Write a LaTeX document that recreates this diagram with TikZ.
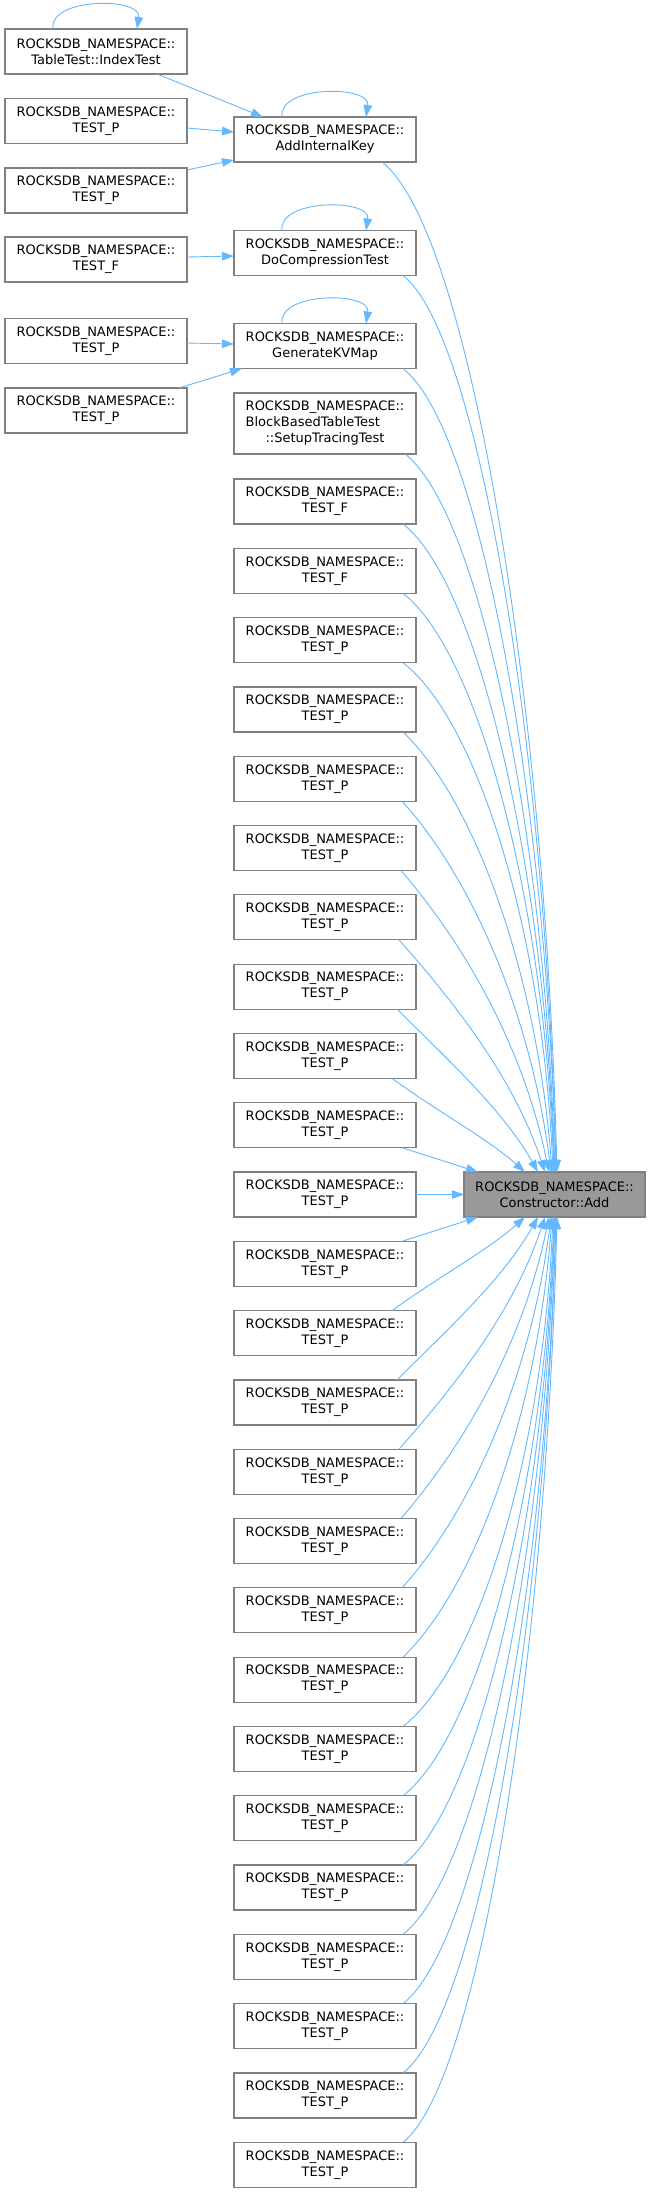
\documentclass[tikz,border=0pt]{standalone}
\usepackage{fontspec}
\setmainfont{DejaVu Sans}
\usepackage{tikz}
\usetikzlibrary{positioning, arrows.meta, calc}

\definecolor{callblue}{HTML}{63B8FF}
\definecolor{boxline}{HTML}{808080}
\definecolor{focusfill}{HTML}{999999}

\begin{document}
\begin{tikzpicture}[
    x=1pt, y=-1pt,
    fn/.style={rectangle, draw=boxline, line width=1.2pt, fill=white, minimum width=182pt, minimum height=45pt, inner sep=0pt, outer sep=0pt, align=center, font=\fontsize{13}{16}\selectfont},
    focus/.style={fn, fill=focusfill, minimum width=181pt},
    call/.style={-{Triangle[length=12pt, width=8.5pt]}, draw=callblue, line width=0.9pt}
]
    \path[fill=white, use as bounding box] (0,0) rectangle (651,2193);

    % callers of the callers
    \node[fn] (idx) at (96,51.5) {ROCKSDB\_NAMESPACE::\\TableTest::IndexTest};
    \node[fn] (lpa) at (96,121) {ROCKSDB\_NAMESPACE::\\TEST\_P};
    \node[fn] (lpb) at (96,190.5) {ROCKSDB\_NAMESPACE::\\TEST\_P};
    \node[fn] (lfa) at (96,259.5) {ROCKSDB\_NAMESPACE::\\TEST\_F};
    \node[fn] (lpc) at (96,341) {ROCKSDB\_NAMESPACE::\\TEST\_P};
    \node[fn] (lpd) at (96,410.5) {ROCKSDB\_NAMESPACE::\\TEST\_P};

    % direct callers
    \node[fn] (aik) at (325,139.5) {ROCKSDB\_NAMESPACE::\\AddInternalKey};
    \node[fn] (doc) at (325,253) {ROCKSDB\_NAMESPACE::\\DoCompressionTest};
    \node[fn] (gkv) at (325,346) {ROCKSDB\_NAMESPACE::\\GenerateKVMap};
    \node[fn, minimum height=61pt] (bbt) at (325,423.5) {ROCKSDB\_NAMESPACE::\\\makebox[0pt][l]{BlockBasedTableTest}\phantom{ROCKSDB\_NAMESPACE::}\\::SetupTracingTest};
    \node[fn, below=25pt of bbt] (t0) {ROCKSDB\_NAMESPACE::\\TEST\_F};
    \node[fn, below=24.3pt of t0] (t1) {ROCKSDB\_NAMESPACE::\\TEST\_F};
    \foreach \i [evaluate=\i as \j using int(\i-1)] in {2,...,24}
        \node[fn, below=24.3pt of t\j] (t\i) {ROCKSDB\_NAMESPACE::\\TEST\_P};

    \node[focus] (add) at (554.5,1194.5) {ROCKSDB\_NAMESPACE::\\Constructor::Add};

    % self calls
    \foreach \n in {idx, aik, doc, gkv}
        \draw[call] ([xshift=48pt]\n.north west) .. controls ([xshift=44pt, yshift=32pt]\n.north west) and ([xshift=137pt, yshift=32pt]\n.north west) .. ([xshift=132pt]\n.north west);

    % into the direct callers
    \draw[call] ([xshift=152pt]idx.south west) -- ([xshift=29pt]aik.north west);
    \draw[call] ([yshift=-7pt]lpa.east) -- ([yshift=7.5pt]aik.west);
    \draw[call] ([yshift=20.5pt]lpb.east) -- ([yshift=-20.5pt]aik.west);
    \draw[call] ([yshift=2.5pt]lfa.east) -- ([yshift=-3pt]doc.west);
    \draw[call] ([yshift=-2pt]lpc.east) -- ([yshift=2pt]gkv.west);
    \draw[call] ([xshift=-8pt]lpd.north east) -- ([xshift=8pt]gkv.south west);

    % callers above Constructor::Add
    \foreach \s/\a/\b in {aik/-34/93, doc/-13/92, gkv/-13/92, bbt/-11/91, t0/-13/90.5, t1/-13/90, t2/-13/89, t3/-13/88, t4/-14/87, t5/-15/85, t6/-17/81, t7/-19/74, t8/-24/61}
        \draw[call] let \p1=([xshift=\a pt]\s.south east), \p2=([xshift=\b pt]add.north west),
            \n1={min(1,((\y1)-(\y2))/500)}, \n2={(\x2)-(\x1)}, \n3={(\y1)-(\y2)} in
            (\p1) .. controls ({\x1+(0.33+0.17*\n1)*\n2}, {\y1-(0.33*(1-\n1)*\n3+0.39*\n1*\n2)})
            and ({\x2-(0.33-0.26*\n1)*\n2}, {\y2+(0.33*(1-\n1)+0.47*\n1)*\n3}) .. (\p2);
    \draw[call] ([xshift=-14pt]t9.south east) -- ([xshift=14pt]add.north west);
    \draw[call] (t10.east) -- (add.west);
    \draw[call] ([xshift=-14pt]t11.north east) -- ([xshift=14pt]add.south west);

    % callers below Constructor::Add
    \foreach \s/\a/\b in {t12/-24/61, t13/-19/74, t14/-17/81, t15/-15/85, t16/-14/87, t17/-13/88, t18/-13/89, t19/-13/90, t20/-13/90.5, t21/-13/91, t22/-13/92, t23/-13/92, t24/-13/93}
        \draw[call] let \p1=([xshift=\a pt]\s.north east), \p2=([xshift=\b pt]add.south west),
            \n1={min(1,((\y2)-(\y1))/500)}, \n2={(\x2)-(\x1)}, \n3={(\y2)-(\y1)} in
            (\p1) .. controls ({\x1+(0.33+0.17*\n1)*\n2}, {\y1+(0.33*(1-\n1)*\n3+0.39*\n1*\n2)})
            and ({\x2-(0.33-0.26*\n1)*\n2}, {\y2-(0.33*(1-\n1)+0.47*\n1)*\n3}) .. (\p2);
\end{tikzpicture}
\end{document}
